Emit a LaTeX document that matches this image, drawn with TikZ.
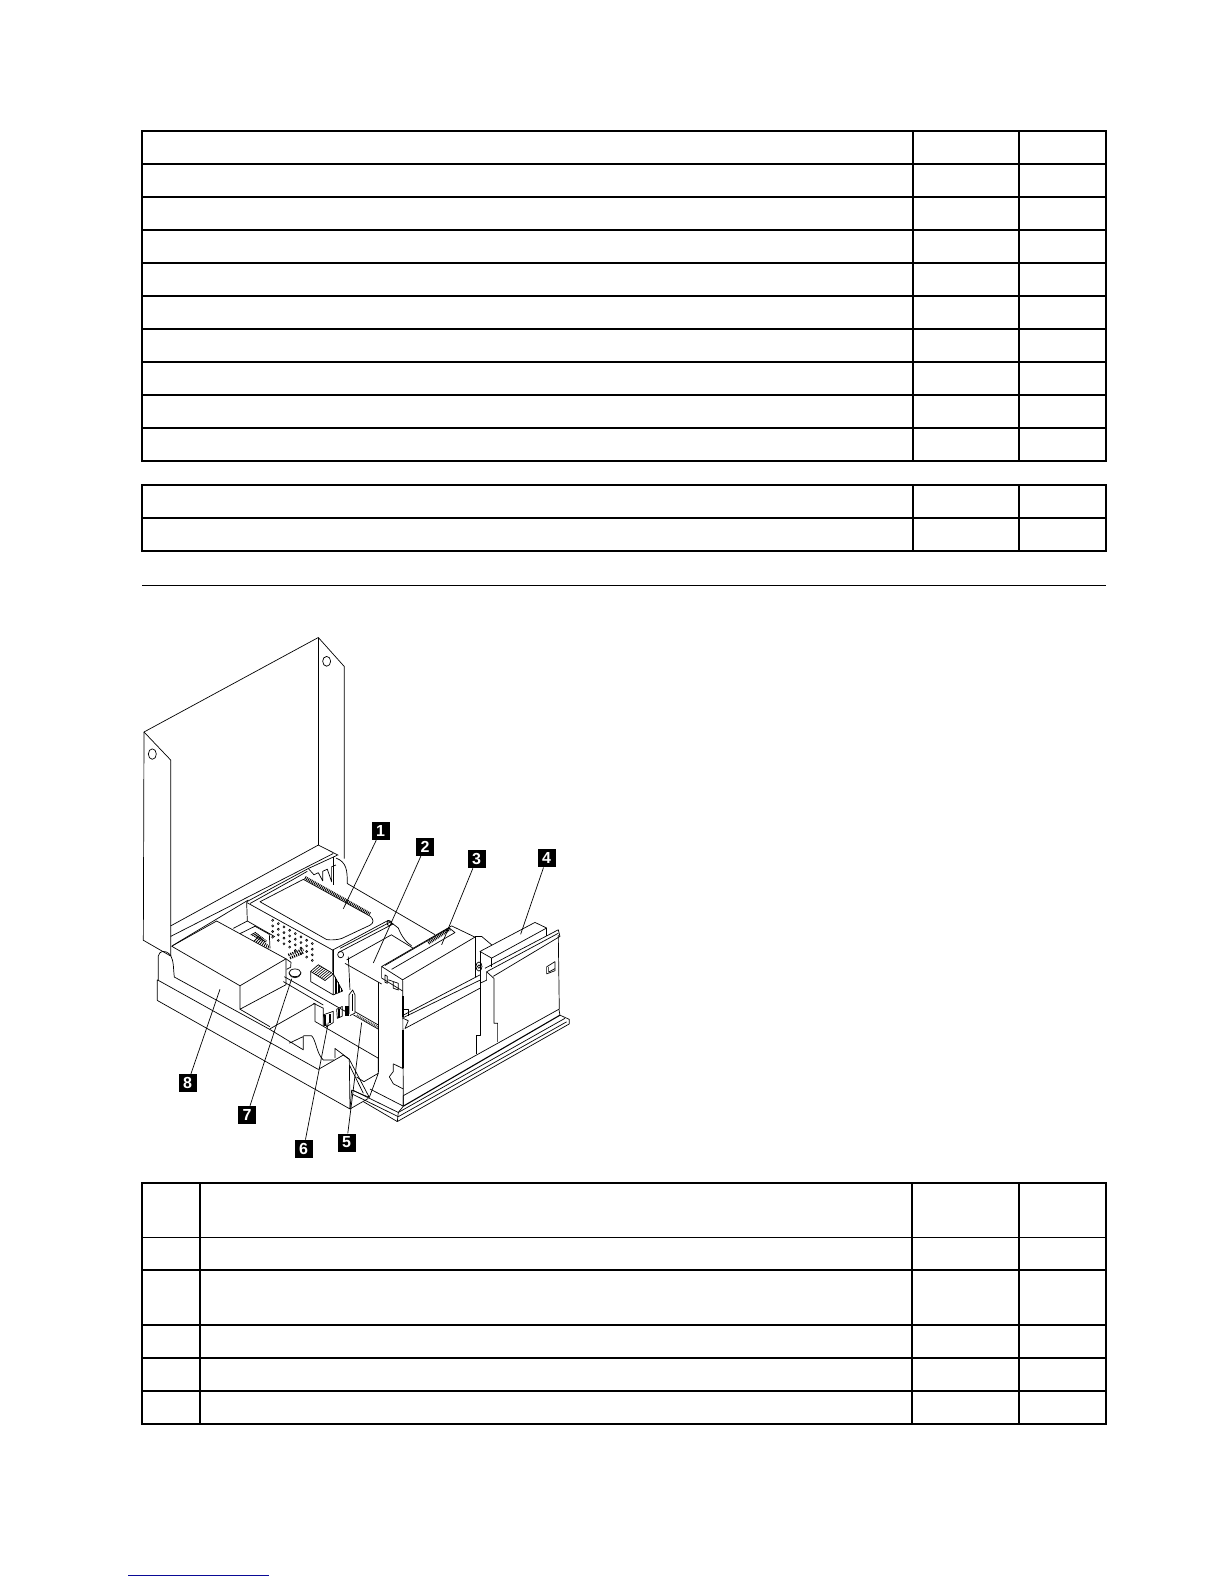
\documentclass[tikz,border=0pt]{standalone}
\usepackage{fontspec}
\setmainfont{Liberation Sans}
\usetikzlibrary{positioning}
\definecolor{footblue}{RGB}{10,10,150}
\tikzset{
    gridline/.style = {
        draw, line width=1.7pt, line cap=rect
    },
    part/.style = {
        draw, line width=0.7pt, line join=round
    },
    teeth/.style = {
        draw, line width=3.4pt, dash pattern=on 0.9pt off 0.9pt
    },
    darkbit/.style = {
        fill=black, draw, line width=0.4pt
    },
    calloutbox/.style = {
        fill=black, text=white, inner sep=0pt, minimum width=18pt, minimum height=18pt,
        font=\fontsize{16}{16}\selectfont\bfseries
    },
    leader/.style = {
        draw, line width=0.7pt
    }
}
\begin{document}
\begin{tikzpicture}[x=1pt, y=-1pt]
    \useasboundingbox (0,0) rectangle (1224,1584);
    % Upper table
    \foreach \rowy in {130.7,163.7,196.7,229.7,262.7,295.7,328.7,361.7,394.7,427.7,461}
        \draw[gridline] (142,\rowy) -- (1106,\rowy);
    \foreach \colx in {142,913,1019,1106}
        \draw[gridline] (\colx,130.7) -- (\colx,461);
    % Small table and rule
    \foreach \rowy in {485,517.7,550.7}
        \draw[gridline] (142,\rowy) -- (1106,\rowy);
    \foreach \colx in {142,913,1019,1106}
        \draw[gridline] (\colx,485) -- (\colx,550.7);
    \draw[line width=1.1pt] (142,585.3) -- (1106,585.3);
    % Lower table
    \foreach \rowy in {1182.7,1270.3,1324.7,1357.7,1390.7,1424}
        \draw[gridline] (142,\rowy) -- (1106,\rowy);
    \draw[line width=1pt] (142,1237.3) -- (1106,1237.3);
    \foreach \colx in {142,200.3,912,1019,1106}
        \draw[gridline] (\colx,1182.7) -- (\colx,1424);
    % Footer line
    \draw[footblue, line width=1.1pt] (128,1575.3) -- (268.7,1575.3);
    % Illustration
    \begin{scope}[shift={(130,620)}, x=0.3333pt, y=-0.35pt]
        % Lid
        \draw[part] (122,960) -- (40,915) -- (42,320) -- (565,50) -- (643,133) -- (643,682);
        \draw[part] (565,50) -- (565,643);
        \draw[part] (42,320) -- (122,400) -- (122,960);
        \draw[part] (590,118) circle[x radius=12, y radius=14];
        \draw[part] (67,383) circle[x radius=12, y radius=15];
        % Hinge rails and slots
        \draw[part] (122,874) -- (565,643) -- (625,672);
        \draw[part] (122,904) -- (610,667);
        \draw[part] (128,930) -- (355,800);
        \draw[part] (350,805) -- (488,734) -- (535,710) -- (622,672);
        \draw[part] (360,810) -- (490,741) -- (532,718);
        \draw[part] (535,710) -- (552,728) -- (565,722) -- (578,745) -- (578,718) -- (592,712) -- (605,748) -- (605,705) -- (618,700);
        \draw[part] (610,677) -- (610,757);
        \draw[part] (618,680) .. controls (650,692) and (652,715) .. (652,753) -- (915,899);
        % Adapter tray
        \draw[part] (390,805) -- (520,741) -- (720,846) .. controls (732,855) and (732,866) .. (720,872)
            -- (635,910) .. controls (620,914) and (605,915) .. (590,913) -- cycle;
        \draw[teeth] (525,736) -- (720,840);
        \draw[part] (350,807) -- (608,943) -- (608,1005);
        \draw[part] (350,807) -- (352,860) -- (435,905);
        \draw[part] (608,943) -- (775,858) -- (805,880);
        \draw[part] (630,938) -- (785,861) (625,950) -- (790,868) (650,971) -- (785,899);
        \draw[part] (805,880) .. controls (815,905) and (830,922) .. (845,931);
        \draw[part] (785,900) -- (850,938);
        \draw[part] (778,866) circle[radius=7];
        \draw[part] (632,956) circle[radius=9];
        \draw[part] (655,962) -- (660,1057);
        \foreach \rowi in {0,...,7}
            \foreach \rowj in {0,...,3}
                \draw[line width=0.6pt] (428+17*\rowi,858+9.5*\rowi+16*\rowj) circle[radius=3];
        % Cage under the tray
        \draw[part] (310,881) -- (352,860) (330,896) -- (375,875) (375,875) -- (418,898) -- (420,938);
        \foreach \rowi in {0,...,8}
            \draw[line width=0.8pt] (362+5*\rowi,908+2.5*\rowi-8) -- (378+4*\rowi,892+3*\rowi);
        \foreach \rowi in {0,...,7}
            \draw[line width=0.8pt] (372+6*\rowi,918+3*\rowi) -- (388+4*\rowi,902+4*\rowi);
        \draw[line width=2.6pt, dash pattern=on 1.1pt off 1.1pt] (475,957) -- (520,941);
        \draw[line width=2.6pt, dash pattern=on 1.1pt off 1.1pt] (480,966) -- (520,950);
        % Power supply
        \draw[part] (125,932) -- (260,860) -- (468,968) -- (330,1045) -- cycle;
        \draw[part] (330,1045) -- (330,1112) -- (468,1042) -- (468,968);
        \draw[part] (468,968) -- (483,978) -- (482,992) -- (470,998);
        \draw[part] (85,1028) -- (85,960) .. controls (88,945) and (105,940) .. (122,958) .. controls (132,975) and (130,1000) .. (133,1020);
        % Battery
        \draw[part] (495,1008) ellipse[x radius=18, y radius=11];
        \draw[part] (477,1010) .. controls (482,1026) and (508,1026) .. (513,1010);
        % Memory sockets and heat sink
        \draw[part] (463,1019) -- (655,1123);
        \draw[part] (460,1033) -- (580,1100);
        \draw[part] (542,1004) -- (565,985) -- (610,1011) -- (610,1071) -- (542,1033) -- cycle;
        \draw[part] (542,1004) -- (585,1030) -- (610,1011);
        \draw[part] (610,943) -- (610,1011);
        \foreach \rowi in {1,...,7}
            \draw[line width=0.6pt] (542+5.4*\rowi,1004+3.2*\rowi) -- (565+5.6*\rowi,985+3.2*\rowi);
        \draw[part] (610,1011) -- (638,1060) -- (610,1071);
        \foreach \rowi in {1,...,5}
            \draw[line width=0.6pt] (610+4.6*\rowi,1011+8*\rowi) -- (610+4.6*\rowi,1071-2*\rowi);
        \draw[part] (420,1168) -- (555,1095) -- (555,1147) -- (745,1252) -- (745,1295);
        \draw[part] (550,1095) -- (580,1109) -- (580,1160);
        % Cable connectors
        \draw[part] (580,1128) -- (610,1118) -- (610,1150) -- (590,1162) -- cycle;
        \draw[darkbit] (582,1130) rectangle (587,1158);
        \draw[darkbit] (597,1125) rectangle (601,1150);
        \draw[part] (620,1112) -- (637,1104) -- (637,1132) -- (622,1138) -- cycle;
        \draw[darkbit] (624,1112) rectangle (628,1135);
        \draw[darkbit] (646,1104) rectangle (654,1128);
        \draw[part] (657,1125) -- (657,1071) -- (668,1057) -- (675,1071) -- (675,1123) -- (660,1130);
        \draw[line width=1.4pt] (668,1068) -- (668,1118);
        \draw[part] (675,1119) -- (745,1157) (670,1128) -- (745,1169);
        \draw[line width=2.4pt, dash pattern=on 0.9pt off 0.9pt, black!70] (680,1130) -- (743,1163);
        % Chassis front wall
        \draw[part] (82,1028) -- (565,1284) -- (640,1243) -- (658,1255) -- (660,1397) -- (82,1087) -- cycle;
        \draw[part] (660,1397) -- (715,1367);
        \draw[part] (133,1020) -- (420,1170) -- (520,1228) -- (520,1190) -- (478,1209);
        \draw[part] (330,1112) -- (420,1162);
        \draw[part] (520,1188) -- (545,1188) .. controls (558,1200) and (560,1240) .. (580,1257) -- (612,1257);
        \draw[part] (615,1252) -- (615,1224) -- (658,1255);
        % Gusset in the corner
        \draw[part] (658,1255) -- (718,1364) -- (665,1343) -- (660,1397);
        \draw[part] (658,1271) -- (700,1352);
        \draw[part] (718,1364) -- (745,1295) -- (702,1319) -- (680,1306);
        % Inner bay wall
        \draw[part] (645,981) -- (755,1040);
        \draw[part] (745,1034) -- (745,1290);
        % Optical drive bay
        \draw[part] (755,990) -- (965,874) -- (1035,906) -- (818,1028) -- cycle;
        \draw[part] (765,987) -- (958,880) -- (975,893) -- (785,998);
        \draw[teeth] (895,923) -- (960,882);
        \draw[part] (755,990) -- (755,1023) -- (818,1060);
        \draw[part] (765,1014) -- (772,1018) -- (772,1038) -- (765,1035) -- cycle;
        \draw[part] (775,1028) -- (805,1038) -- (805,1057) -- (790,1052) -- (790,1033);
        \draw[part] (818,1028) -- (820,1389);
        \draw[line width=1.5pt] (819,1075) -- (819,1135) (819,1170) -- (819,1280) ;
        \draw[part] (790,1268) -- (820,1282);
        \draw[part] (790,1268) -- (790,1290) -- (778,1305) -- (790,1325) -- (820,1340);
        \draw[part] (820,1112) -- (835,1112) -- (835,1130);
        \draw[part] (820,1138) -- (835,1145) -- (825,1167);
        % Drive rail
        \draw[part] (1035,906) -- (1035,1020);
        \draw[part] (1035,904) -- (1055,904) -- (1085,928);
        \draw[part] (820,1129) -- (1050,1014);
        \draw[part] (820,1136) -- (1050,1029);
        \draw[part] (825,1167) -- (1050,1052);
        \draw[part] (1047,990) circle[x radius=9, y radius=13];
        \draw[part] (1047,990) circle[radius=5];
        % Diskette drive
        \draw[part] (1050,947) -- (1215,864) -- (1250,880) -- (1085,966) -- cycle;
        \draw[part] (1050,947) -- (1050,1186) -- (1038,1186) -- (1038,1240);
        \draw[part] (1085,966) -- (1085,990);
        \draw[part] (1250,880) -- (1250,902);
        \draw[part] (1065,995) -- (1285,885) -- (1290,904) -- (1090,1018);
        \draw[part] (1070,1005) -- (1285,895);
        \draw[part] (1070,1005) -- (1092,1024) -- (1092,1152) -- (1103,1152) -- (1103,1205);
        \draw[part] (1070,1005) -- (1070,1029) -- (1050,1038);
        \draw[part] (1285,900) -- (1288,1112);
        \draw[part] (1250,991) -- (1275,976) -- (1275,1002) -- (1250,1011) -- cycle;
        \draw[part] (1256,992) -- (1256,1006) -- (1275,996);
        % Base flange
        \draw[part] (820,1359) -- (1287,1112);
        \draw[line width=1.1pt] (820,1389) -- (1290,1129);
        \draw[part] (805,1407) -- (1305,1138);
        \draw[part] (805,1419) -- (1310,1148);
        \draw[part] (802,1433) -- (1318,1154) -- (1318,1141) -- (1290,1129) -- (1287,1112);
        \draw[part] (820,1359) -- (820,1389) -- (805,1407) -- (802,1433);
        \draw[part] (668,1343) -- (805,1407);
        \draw[part] (668,1355) -- (805,1419);
        \draw[part] (700,1376) -- (802,1433);
        \draw[part] (820,1389) -- (720,1340);
        % Callouts
        \node[calloutbox] (c1) at (752,603) {1};
        \node[calloutbox] (c2) at (885,648) {2};
        \node[calloutbox] (c3) at (1040,683) {3};
        \node[calloutbox] (c4) at (1250,681) {4};
        \node[calloutbox] (c5) at (650,1493) {5};
        \node[calloutbox] (c6) at (521,1511) {6};
        \node[calloutbox] (c7) at (351,1414) {7};
        \node[calloutbox] (c8) at (173,1324) {8};
        \coordinate (t1) at (640,825);
        \coordinate (t2) at (730,980);
        \coordinate (t3) at (935,928);
        \coordinate (t4) at (1172,898);
        \coordinate (t5) at (695,1150);
        \coordinate (t6) at (595,1150);
        \coordinate (t7) at (485,1025);
        \coordinate (t8) at (270,1055);
        \foreach \tag in {1,...,8}
            \draw[leader] (c\tag) -- (t\tag);
    \end{scope}
\end{tikzpicture}
\end{document}
